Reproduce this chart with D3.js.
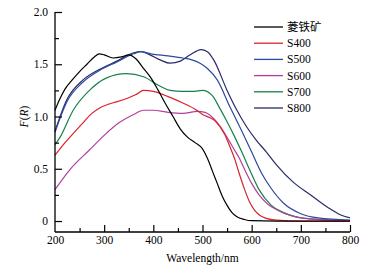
<!DOCTYPE html>
<html>
<head>
<meta charset="utf-8">
<script src="https://cdn.jsdelivr.net/npm/d3@7"></script>
<style>
  body { margin: 0; background: #fff; }
  svg { display: block; }
  text { font-family: "Liberation Serif", "Times New Roman", serif; }
</style>
</head>
<body>
<svg id="chart" width="368" height="267"></svg>
<script>
// series data (wavelength nm / F(R))
var wlSiderite = [200,210,220,235,250,265,280,290,300,318,335,350,365,380,395,410,425,440,455,470,485,500,510,520,530,540,550,560,570,585,600,650,700,800];
var fSiderite  = [1.06,1.17,1.26,1.35,1.43,1.50,1.57,1.60,1.59,1.56,1.57,1.59,1.55,1.46,1.37,1.25,1.12,1.00,0.88,0.80,0.75,0.69,0.60,0.48,0.36,0.24,0.15,0.08,0.04,0.015,0.003,0,0,0];

var wlS400 = [200,215,230,255,275,290,310,325,350,365,380,400,430,460,485,500,525,545,555,565,575,585,595,605,615,630,650,700,800];
var fS400  = [0.63,0.72,0.80,0.93,1.03,1.08,1.12,1.14,1.18,1.21,1.25,1.24,1.19,1.13,1.07,1.02,0.96,0.83,0.72,0.60,0.45,0.31,0.19,0.11,0.06,0.025,0.008,0,0];

var wlS500 = [200,224,257,290,325,360,375,395,430,460,480,495,510,530,556,582,600,620,637,665,700,735,800];
var fS500  = [0.85,1.14,1.33,1.44,1.52,1.60,1.62,1.60,1.58,1.56,1.54,1.51,1.46,1.35,1.09,0.84,0.66,0.46,0.33,0.17,0.07,0.03,0.01];

var wlS600 = [200,230,270,300,330,360,380,400,430,460,490,505,525,545,555,565,575,585,600,615,633,650,668,690,720,760,800];
var fS600  = [0.30,0.49,0.68,0.82,0.94,1.02,1.06,1.06,1.04,1.03,1.05,1.04,0.97,0.84,0.76,0.68,0.60,0.50,0.36,0.25,0.16,0.11,0.07,0.04,0.02,0.01,0.005];

var wlS700 = [200,210,237,270,305,345,380,414,434,460,480,500,520,535,550,565,580,595,615,640,665,690,720,760,800];
var fS700  = [0.73,0.80,1.06,1.25,1.37,1.41,1.38,1.29,1.25,1.24,1.24,1.25,1.20,1.08,0.95,0.81,0.66,0.50,0.30,0.15,0.08,0.04,0.02,0.01,0.005];

var wlS800 = [200,224,257,290,326,360,375,393,415,434,455,475,497,510,523,550,570,590,610,630,650,685,720,755,780,800];
var fS800  = [0.86,1.16,1.35,1.45,1.53,1.61,1.62,1.59,1.54,1.51,1.53,1.59,1.64,1.62,1.54,1.25,1.06,0.90,0.77,0.66,0.54,0.37,0.25,0.13,0.06,0.03];

var seriesNames = ['菱铁矿','S400','S500','S600','S700','S800'];
var seriesColors = ['#000000','#d9232d','#2c4a9e','#b23f9e','#17814b','#2a2b68'];

var xTicks = [200,300,400,500,600,700,800];
var xMinor = [250,350,450,550,650,750];
var yTicks = [0,0.5,1.0,1.5,2.0];
var yTickLabels = ['0','0.5','1.0','1.5','2.0'];
var yMinor = [0.25,0.75,1.25,1.75];

var margin = { top: 12, right: 18, bottom: 35, left: 55 };
var svg = d3.select('#chart');
var width = 368, height = 267;
var innerWidth = width - margin.left - margin.right;
var innerHeight = height - margin.top - margin.bottom;

var xScale = d3.scaleLinear().domain([200, 800]).range([0, innerWidth]);
var yScale = d3.scaleLinear().domain([-0.105, 2.0]).range([innerHeight, 0]);

var g = svg.append('g')
  .attr('transform', 'translate(' + margin.left + ',' + margin.top + ')');

var allWl = [wlSiderite, wlS400, wlS500, wlS600, wlS700, wlS800];
var allF = [fSiderite, fS400, fS500, fS600, fS700, fS800];

var line = d3.line()
  .x(d => xScale(d[0]))
  .y(d => yScale(d[1]))
  .curve(d3.curveMonotoneX);

// draw the curves (black last so it sits on top like the original)
[5,4,3,2,1,0].forEach(function(i) {
  g.append('path')
    .datum(d3.zip(allWl[i], allF[i]))
    .attr('d', line)
    .attr('fill', 'none')
    .attr('stroke', seriesColors[i])
    .attr('stroke-width', 1.2);
});

// x axis with inward ticks
var xAxis = d3.axisBottom(xScale).tickValues(xTicks).tickSize(-7).tickPadding(4);
var xg = g.append('g').attr('transform', 'translate(0,' + innerHeight + ')').call(xAxis);
xg.selectAll('.tick').filter(d => d == 200).select('line').remove();
var xMinorAxis = d3.axisBottom(xScale).tickValues(xMinor).tickSize(-4).tickFormat('');
var xmg = g.append('g').attr('transform', 'translate(0,' + innerHeight + ')').call(xMinorAxis);
xmg.select('.domain').remove();

// y axis with inward ticks
var yAxis = d3.axisLeft(yScale).tickValues(yTicks).tickSize(-7).tickPadding(7)
  .tickFormat((d, i) => yTickLabels[i]);
var yg = g.append('g').call(yAxis);
var yMinorAxis = d3.axisLeft(yScale).tickValues(yMinor).tickSize(-4).tickFormat('');
var ymg = g.append('g').call(yMinorAxis);
ymg.select('.domain').remove();

[xg, yg, xmg, ymg].forEach(function(a) {
  a.select('.domain').attr('stroke', '#000').attr('stroke-width', 1.3).attr('d',
    a === xg ? 'M0,0H' + innerWidth : 'M0,' + innerHeight + 'V' + yScale(2.0));
  a.selectAll('.tick line').attr('stroke', '#000').attr('stroke-width', 1.2);
  a.selectAll('.tick text').attr('fill', '#000').style('font-size', '11.5px')
    .style('font-family', '"Liberation Serif", serif');
});

// axis titles
g.append('text')
  .attr('x', innerWidth / 2)
  .attr('y', innerHeight + 30)
  .attr('text-anchor', 'middle')
  .style('font-size', '11.5px')
  .text('Wavelength/nm');

var yt = g.append('text')
  .attr('transform', 'rotate(-90)')
  .attr('x', -(yScale(1.0)))
  .attr('y', -27)
  .attr('text-anchor', 'middle')
  .style('font-size', '11.5px');
yt.append('tspan').style('font-style', 'italic').text('F');
yt.append('tspan').text('(');
yt.append('tspan').style('font-style', 'italic').text('R');
yt.append('tspan').text(')');

// legend
var legend = svg.append('g').attr('transform', 'translate(254,27)');
seriesNames.forEach(function(name, i) {
  var row = legend.append('g').attr('transform', 'translate(0,' + (i * 16.2) + ')');
  row.append('line')
    .attr('x1', 0).attr('x2', 29).attr('y1', 0).attr('y2', 0)
    .attr('stroke', seriesColors[i]).attr('stroke-width', 1.3);
  row.append('text')
    .attr('x', 33).attr('y', 4)
    .style('font-size', '11.5px')
    .style('font-family', i == 0 ? '"Noto Sans CJK SC", "Liberation Serif", serif' : '"Liberation Serif", serif')
    .text(name);
});
</script>
</body>
</html>
